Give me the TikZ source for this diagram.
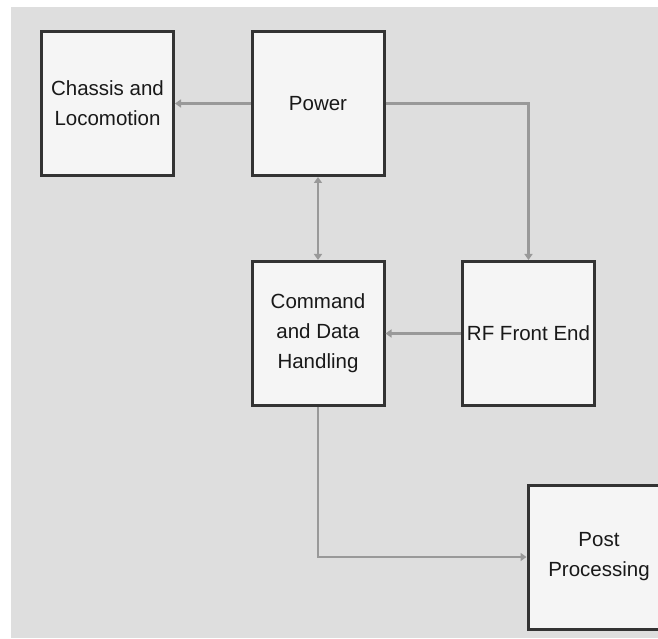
\documentclass[tikz,border=0pt]{standalone}
\usepackage{fontspec}
\setmainfont{Liberation Sans}
\usepackage{tikz}
\usetikzlibrary{arrows.meta}
\definecolor{bggray}{HTML}{DEDEDE}
\definecolor{boxfill}{HTML}{F5F5F5}
\definecolor{boxline}{HTML}{333333}
\definecolor{linkgray}{HTML}{999999}

\begin{document}
\begin{tikzpicture}[x=1pt,y=1pt,
	block/.style={draw=boxline, line width=3pt, fill=boxfill, minimum width=132pt, minimum height=144pt,
		align=center, text=black!90, font=\fontsize{20.5}{30}\selectfont},
	link/.style={draw=linkgray, line width=2.5pt, -{Triangle[length=6pt,width=8pt]}}]

		% background
		\useasboundingbox (0,0) rectangle (658,638);
		\fill[bggray] (11,0) rectangle (658,631);

		% blocks
		\node[block] (chassis) at (107.5,534.5) {Chassis and\\Locomotion};
		\node[block] (power) at (318,534.5) {Power};
		\node[block] (cdh) at (318,304.5) {Command\\and Data\\Handling};
		\node[block] (rf) at (528.5,304.5) {RF Front End};
		\node[block, minimum width=142pt] (post) at (599,81) {Post\\Processing};

		% connections
		\draw[link] (power.west) -- (chassis.east);
		\draw[link, {Triangle[length=6pt,width=8pt]}-{Triangle[length=6pt,width=8pt]}] (power.south) -- (cdh.north);
		\draw[link] (power.east) -| (rf.north);
		\draw[link] (rf.west) -- (cdh.east);
		\draw[link] (cdh.south) |- (post.west);

\end{tikzpicture}
\end{document}
